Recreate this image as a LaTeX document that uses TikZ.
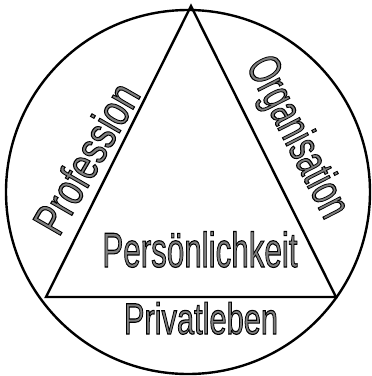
\documentclass[tikz,border=0pt]{standalone}
\usepackage{fontspec}
\setmainfont{Liberation Sans}
\usepackage{graphicx}
\definecolor{lettergray}{gray}{0.5}

% hollow letters: gray fill, black rim, squeezed sideways
\newcommand{\hollowtext}[3]{\fontsize{#1}{#1}\selectfont\scalebox{#2}[1]{{\color{lettergray}\special{pdf:literal direct 2 Tr 1.1 w 0 G}#3\special{pdf:literal direct 0 Tr}}}}

\tikzset{
  word/.style={inner sep=0pt, anchor=base},
  ring/.style={line width=2.4pt}
}

\begin{document}
\begin{tikzpicture}[x=1pt, y=-1pt]
    \useasboundingbox (0,0) rectangle (372,376);

    % Draw the outer circle
    \draw[ring] (188,192) circle[radius=182pt];

    % Draw the triangle
    \coordinate (apex) at (191,6);
    \coordinate (lowleft) at (46,297);
    \coordinate (lowright) at (336,297);
    \draw[ring] (apex) -- (lowleft) -- (lowright) -- cycle;

    % Labels
    \node[word] (pers) at (200,267) {\hollowtext{49}{0.64}{Persönlichkeit}};
    \node[word] (priv) at (201,334) {\hollowtext{44}{0.70}{Privatleben}};
    \node[inner sep=0pt, rotate=60] (prof) at (86,158) {\hollowtext{46}{0.76}{Profession}};
    \node[inner sep=0pt, rotate=-63] (orga) at (296,138) {\hollowtext{46}{0.67}{Organisation}};
\end{tikzpicture}
\end{document}
